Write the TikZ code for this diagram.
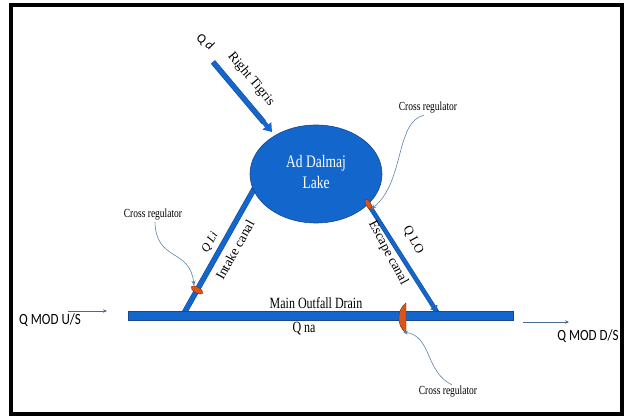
\documentclass[tikz,border=0pt]{standalone}
\usepackage{fontspec}
\setmainfont{Liberation Serif}
\newfontfamily\calib{Carlito}
\usetikzlibrary{arrows.meta,shapes.geometric,calc}
\definecolor{chan}{RGB}{18,102,204}
\definecolor{chanedge}{RGB}{25,72,140}
\definecolor{regc}{RGB}{222,84,22}
\definecolor{regedge}{RGB}{120,50,20}
\definecolor{callc}{RGB}{95,130,170}
\definecolor{flowc}{RGB}{70,105,150}
\tikzset{
  canal/.style={draw=chan, line width=4.5pt},
  canaledge/.style={draw=chanedge, line width=5.5pt},
  calloutarr/.style={draw=callc, line width=0.6pt, -{Stealth[length=5pt,width=4pt]}},
  flowarr/.style={draw=flowc, line width=0.8pt, -{Stealth[length=4pt,width=3.5pt]}},
  regshape/.style={fill=regc, draw=regedge, line width=0.4pt, ellipse, inner sep=0pt},
  lbl/.style={inner sep=1pt, font=\fontsize{12}{14}\selectfont},
  crlbl/.style={inner sep=1pt, yscale=1.3, font=\fontsize{9.5}{11}\selectfont},
}
\begin{document}
\begin{tikzpicture}[x=1pt,y=-1pt]
\useasboundingbox (0,0) rectangle (629,419);
\draw[line width=3.5pt] (11,5) rectangle (622,414);

% coordinates of channels
\coordinate (rtA) at (213,62);
\coordinate (rtB) at (272,132);
\coordinate (inA) at (183,315);
\coordinate (inB) at (258,182);
\coordinate (esB) at (437,312);

% Right Tigris
\draw[canaledge] (rtA) -- ($(rtA)!0.86!(rtB)$);
\draw[draw=chan, line width=4.5pt, -{Triangle[length=8pt,width=11pt]}] (rtA) -- (rtB);

% Intake canal
\draw[canaledge] (inA) -- (inB);
\draw[canal] (inA) -- (inB);

% Lake
\node[ellipse, fill=chan, draw=chanedge, line width=0.6pt, minimum width=132pt, minimum height=98pt] (lake) at (316,174) {};
\node[lbl, text=white, yscale=1.3, font=\fontsize{13.5}{15}\selectfont, align=center] (lakelbl) at (316,172) {Ad Dalmaj\\[1pt]Lake};

% Escape canal
\coordinate (esA) at (lake.-30);
\draw[draw=chanedge, line width=4.5pt] (esA) -- (esB);
\draw[draw=chan, line width=3.5pt, -{Triangle[length=6pt,width=8pt]}] (esA) -- (esB);

% Main drain
\node[fill=chan, draw=chanedge, line width=0.7pt, minimum width=385pt, minimum height=9pt, inner sep=0pt] (drain) at (320.5,316) {};

% Regulators
\node[regshape, minimum width=13pt, minimum height=6pt, rotate=-30] (reg1) at (197,290) {};
\node[regshape, minimum width=11pt, minimum height=5pt, rotate=-60] (reg2) at (esA) {};
\fill[regc, draw=regedge, line width=0.4pt] (406,303) .. controls (397,309) and (396,326) .. (406,333) -- cycle;
\coordinate (reg3) at (403,332);

% Text labels
\node[lbl, yscale=1.3] (mod) at (316,303) {Main Outfall Drain};
\node[lbl, yscale=1.3] (qna) at (304,329) {Q na};
\node[lbl, rotate=-38, font=\calib\fontsize{13}{15}\selectfont] (qd) at (205,42) {Q \itshape d};
\node[lbl, rotate=-50, font=\fontsize{13.5}{15}\selectfont] (rt) at (251,79) {Right Tigris};
\node[lbl, rotate=61, font=\itshape\fontsize{12}{14}\selectfont] (qli) at (210,243) {Q Li};
\node[lbl, rotate=61, font=\fontsize{13.5}{15}\selectfont] (ic) at (235,250) {Intake canal};
\node[lbl, rotate=-62, font=\fontsize{13}{15}\selectfont] (qlo) at (413,240) {Q LO};
\node[lbl, rotate=-62, font=\fontsize{13.5}{15}\selectfont] (ec) at (388,253) {Escape canal};

% Cross regulator callouts
\node[crlbl] (cr1) at (153,215) {Cross regulator};
\node[crlbl] (cr2) at (428,108) {Cross regulator};
\node[crlbl] (cr3) at (448,392) {Cross regulator};
\draw[calloutarr] (cr1.south) ++(2,0) .. controls (156,262) and (190,248) .. (reg1.north west);
\draw[calloutarr] (cr2.south) ++(-4,0) .. controls (395,122) and (405,182) .. (reg2.east);
\draw[calloutarr] (cr3.north) ++(4,0) .. controls (425,372) and (432,336) .. (reg3);

% Q MOD flows
\node[lbl, yscale=1.2, font=\calib\fontsize{13}{15}\selectfont] (qus) at (50,320) {Q MOD U/S};
\node[lbl, yscale=1.2, font=\calib\fontsize{13}{15}\selectfont] (qds) at (588,336) {Q MOD D/S};
\coordinate (usA) at (68,311);
\coordinate (usB) at (107,311);
\coordinate (dsA) at (523,322);
\coordinate (dsB) at (569,322);
\draw[flowarr] (usA) -- (usB);
\draw[flowarr] (dsA) -- (dsB);
\end{tikzpicture}
\end{document}
